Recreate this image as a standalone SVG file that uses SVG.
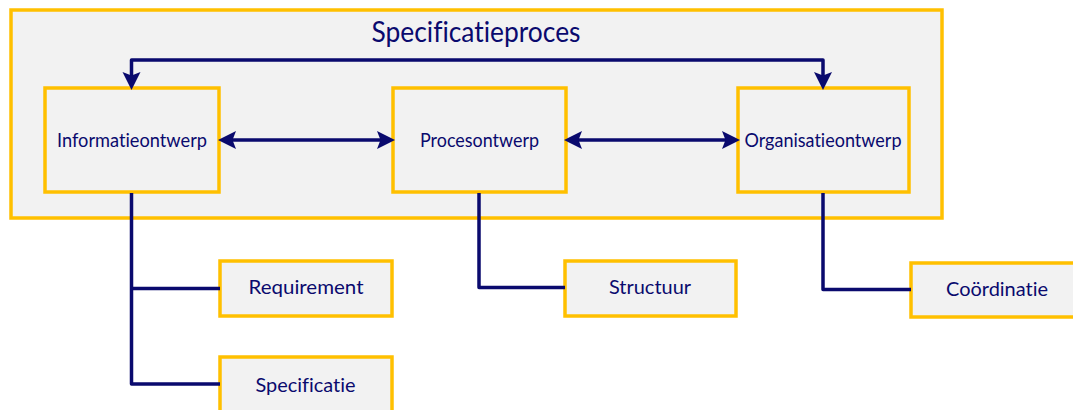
<svg xmlns="http://www.w3.org/2000/svg" width="1073" height="410" viewBox="0 0 1073 410">
  <style>
    .box { fill: #F2F2F2; stroke: #FFC000; stroke-width: 3.5; }
    .lbl { font-family: Lato, "Open Sans", "Liberation Sans", sans-serif; fill: #0A0A6E; text-anchor: middle; font-variant-ligatures: none; font-feature-settings: "liga" 0; }
    .title { font-size: 28.5px; }
    .main { font-size: 18.5px; }
    .sub { font-size: 20px; }
    .wire { fill: none; stroke: #0A0A6E; stroke-width: 3.5; stroke-linejoin: round; }
    .arrow { marker-start: url(#head); marker-end: url(#head); }
  </style>
  <defs>
    <marker id="head" markerUnits="userSpaceOnUse" markerWidth="19" markerHeight="19" viewBox="0 0 18 19" refX="8" refY="9.5" orient="auto-start-reverse">
      <path d="M0,0.5 L18,9.5 L0,18.5 L3.5,9.5 Z" fill="#0A0A6E"/>
    </marker>
  </defs>

  <!-- enclosing process frame -->
  <g id="specificatieproces">
    <rect class="box" x="11" y="10" width="931" height="208"/>
    <text class="lbl title" x="476" y="42" textLength="209" lengthAdjust="spacingAndGlyphs">Specificatieproces</text>
  </g>

  <!-- design nodes -->
  <g id="informatieontwerp">
    <rect class="box" x="45" y="88" width="174" height="104"/>
    <text class="lbl main" x="132" y="146.5" textLength="150" lengthAdjust="spacingAndGlyphs">Informatieontwerp</text>
  </g>
  <g id="procesontwerp">
    <rect class="box" x="393" y="88" width="173" height="104"/>
    <text class="lbl main" x="479.5" y="146.5" textLength="119" lengthAdjust="spacingAndGlyphs">Procesontwerp</text>
  </g>
  <g id="organisatieontwerp">
    <rect class="box" x="738" y="88" width="171" height="104"/>
    <text class="lbl main" x="823" y="146.5" textLength="157" lengthAdjust="spacingAndGlyphs">Organisatieontwerp</text>
  </g>

  <!-- aspect nodes -->
  <g id="requirement">
    <rect class="box" x="220" y="261" width="172" height="55"/>
    <text class="lbl sub" x="306" y="294" textLength="115" lengthAdjust="spacingAndGlyphs">Requirement</text>
  </g>
  <g id="specificatie">
    <rect class="box" x="220" y="357" width="172" height="58"/>
    <text class="lbl sub" x="305.5" y="391.5" textLength="100" lengthAdjust="spacingAndGlyphs">Specificatie</text>
  </g>
  <g id="structuur">
    <rect class="box" x="565" y="261" width="171" height="55"/>
    <text class="lbl sub" x="650" y="294" textLength="82" lengthAdjust="spacingAndGlyphs">Structuur</text>
  </g>
  <g id="coordinatie">
    <rect class="box" x="911" y="263" width="172" height="54"/>
    <text class="lbl sub" x="997" y="296" textLength="102" lengthAdjust="spacingAndGlyphs">Coördinatie</text>
  </g>

  <!-- connectors -->
  <g id="connectors">
    <path class="wire arrow" d="M131.5,80 V60 H823 V80"/>
    <path class="wire arrow" d="M228,140 H385"/>
    <path class="wire arrow" d="M574,140 H730"/>
    <path class="wire" d="M131.5,193 V384 H220"/>
    <path class="wire" d="M131.5,288.5 H220"/>
    <path class="wire" d="M479,193 V287.5 H565"/>
    <path class="wire" d="M823,193 V289.5 H911"/>
  </g>
</svg>
